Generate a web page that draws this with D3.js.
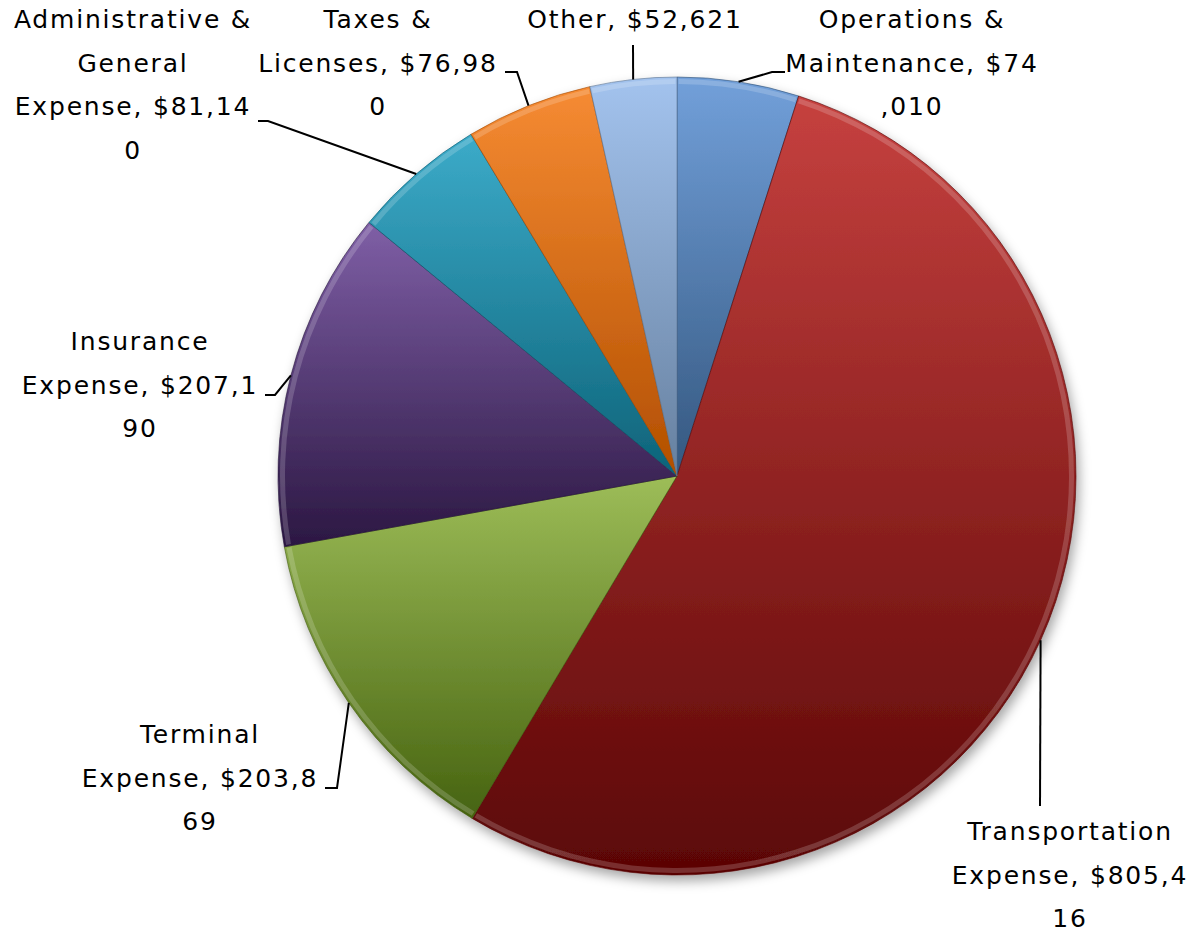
<!DOCTYPE html>
<html>
<head>
<meta charset="utf-8">
<script src="https://cdn.jsdelivr.net/npm/d3@7"></script>
<style>
  body { margin: 0; background: #fff; }
  text { font-family: "DejaVu Sans", sans-serif; fill: #000; }
</style>
</head>
<body>
<svg id="chart" width="1203" height="934"></svg>
<script>
// data, clockwise from 12 o'clock
const categories = ["Operations & Maintenance", "Transportation Expense", "Terminal Expense",
  "Insurance Expense", "Administrative & General Expense", "Taxes & Licenses", "Other"];
const values = [74010, 805416, 203869, 207190, 81140, 76980, 52621];
// label text as wrapped in the picture
const labelLines = [
  ["Operations &", "Maintenance, $74", ",010"],
  ["Transportation", "Expense, $805,4", "16"],
  ["Terminal", "Expense, $203,8", "69"],
  ["Insurance", "Expense, $207,1", "90"],
  ["Administrative &", "General", "Expense, $81,14", "0"],
  ["Taxes &", "Licenses, $76,98", "0"],
  ["Other, $52,621"]
];

// styles / layout
const topColors = ["#72a0da", "#c6413f", "#9dbd58", "#7f5fa6", "#3cabc9", "#f68b33", "#a3c3ee"];
const botColors = ["#34577f", "#5a0505", "#466310", "#2b1742", "#0d6379", "#b24f00", "#66809f"];
const labelPos = [ // text centre x, first baseline y, leader elbow, leader end
  { x: 912, y: 28, elbow: [772, 72], end: [785, 72] },
  { x: 1070, y: 840, elbow: [1040, 806], end: [1040, 806] },
  { x: 200, y: 743, elbow: [337, 788], end: [325, 788] },
  { x: 140, y: 350, elbow: [275, 395], end: [265, 395] },
  { x: 133, y: 28, elbow: [268, 121], end: [258, 121] },
  { x: 378, y: 28, elbow: [517, 72], end: [505, 72] },
  { x: 635, y: 28, elbow: [633, 45], end: [633, 45] }
];
const cx = 677, cy = 476, radius = 399, lineGap = 43.5;

const svg = d3.select("#chart");
const defs = svg.append("defs");

const shadow = defs.append("filter").attr("id", "shadow")
  .attr("x", "-10%").attr("y", "-10%").attr("width", "125%").attr("height", "125%");
shadow.append("feDropShadow").attr("dx", 3).attr("dy", 6).attr("stdDeviation", 6)
  .attr("flood-color", "#000").attr("flood-opacity", 0.35);

categories.forEach((c, i) => {
  const g = defs.append("linearGradient").attr("id", "grad" + i)
    .attr("x1", 0).attr("y1", 0).attr("x2", 0).attr("y2", 1);
  g.append("stop").attr("offset", "0%").attr("stop-color", topColors[i]);
  g.append("stop").attr("offset", "100%").attr("stop-color", botColors[i]);
});

const pie = d3.pie().sort(null).value(d => d);
const arcs = pie(values);
const arc = d3.arc().innerRadius(0).outerRadius(radius);
const rim = d3.arc().innerRadius(radius - 7).outerRadius(radius - 2);

const pieG = svg.append("g").attr("transform", `translate(${cx},${cy})`);
const slices = pieG.append("g").attr("filter", "url(#shadow)");

slices.selectAll("path.slice")
  .data(arcs)
  .join("path")
  .attr("class", "slice")
  .attr("d", arc)
  .attr("fill", (d, i) => `url(#grad${i})`)
  .attr("stroke", (d, i) => d3.color(botColors[i]).darker(0.3))
  .attr("stroke-opacity", 0.6)
  .attr("stroke-width", 1);

// bevel highlight near the rim
pieG.append("g").selectAll("path")
  .data(arcs)
  .join("path")
  .attr("d", d => rim({ ...d, startAngle: d.startAngle + 0.004, endAngle: d.endAngle - 0.004 }))
  .attr("fill", "#fff")
  .attr("opacity", 0.18);

// leader lines + labels
const labels = svg.append("g");
arcs.forEach((d, i) => {
  const mid = (d.startAngle + d.endAngle) / 2;
  const p0 = [cx + radius * Math.sin(mid), cy - radius * Math.cos(mid)];
  const lp = labelPos[i];
  labels.append("path")
    .attr("d", d3.line()([p0, lp.elbow, lp.end]))
    .attr("fill", "none")
    .attr("stroke", "#000")
    .attr("stroke-width", 2);

  const t = labels.append("text")
    .attr("text-anchor", "middle")
    .attr("font-size", 25)
    .attr("letter-spacing", 1.8);
  labelLines[i].forEach((line, j) => {
    t.append("tspan")
      .attr("x", lp.x)
      .attr("y", lp.y + j * lineGap)
      .text(line);
  });
});
</script>
</body>
</html>
